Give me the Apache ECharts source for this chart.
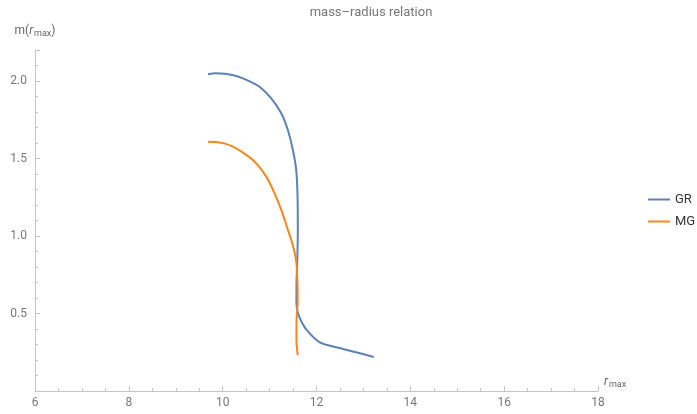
<!DOCTYPE html>
<html>
<head>
<meta charset="utf-8">
<script src="https://cdn.jsdelivr.net/npm/echarts@6/dist/echarts.min.js"></script>
<style>
  html, body { margin: 0; padding: 0; background: #fff; }
  #chart { width: 697px; height: 414px; }
</style>
</head>
<body>
<div id="chart"></div>
<script>
// r_max, m(r_max) pairs
const grR = [9.687, 9.85, 10.05, 10.25, 10.432, 10.61, 10.787, 11.036, 11.249, 11.389, 11.496, 11.568, 11.596, 11.602, 11.589, 11.575, 11.572, 11.60, 11.66, 11.79, 12.06, 12.49, 12.91, 13.22];
const grM = [2.044, 2.05, 2.047, 2.035, 2.017, 1.993, 1.963, 1.888, 1.792, 1.684, 1.555, 1.426, 1.254, 1.039, 0.826, 0.716, 0.568, 0.51, 0.46, 0.394, 0.316, 0.277, 0.245, 0.219];
const mgR = [9.687, 9.85, 10.05, 10.219, 10.504, 10.717, 10.93, 11.106, 11.249, 11.368, 11.483, 11.553, 11.581, 11.60, 11.575, 11.572, 11.60];
const mgM = [1.608, 1.606, 1.596, 1.576, 1.523, 1.469, 1.383, 1.275, 1.168, 1.06, 0.953, 0.866, 0.792, 0.587, 0.458, 0.329, 0.232];
const xTicks = [6, 8, 10, 12, 14, 16, 18];
const yTicks = [0.5, 1.0, 1.5, 2.0];

const pairs = (xs, ys) => xs.map((x, i) => [x, ys[i]]);

const axisColor = '#c4c4c4';
const labelColor = '#777';

const myChart = echarts.init(document.getElementById('chart'));
const option = {
  animation: false,
  title: {
    text: 'mass\u2013radius relation',
    left: 366,
    top: 1,
    textAlign: 'center',
    textStyle: { fontFamily: 'Roboto', fontWeight: 'normal', fontSize: 13, color: '#777' }
  },
  legend: {
    orient: 'vertical',
    left: 643,
    top: 188,
    itemWidth: 22,
    itemHeight: 2,
    itemGap: 9,
    icon: 'rect',
    textStyle: { fontFamily: 'Roboto', fontSize: 13, color: '#333' },
    data: ['GR', 'MG']
  },
  grid: { left: 35, right: 99, top: 50, bottom: 23 },
  xAxis: {
    type: 'value',
    min: 6,
    max: 18,
    interval: 2,
    name: '{i|r}{s|max}',
    nameLocation: 'end',
    nameGap: 6,
    nameTextStyle: {
      verticalAlign: 'bottom',
      padding: [0, 0, 2, 0],
      rich: {
        i: { fontFamily: 'Roboto', fontStyle: 'italic', fontSize: 12, color: '#666' },
        s: { fontFamily: 'Roboto', fontSize: 9, color: '#666', verticalAlign: 'bottom', padding: [6, 0, 0, 1] }
      }
    },
    axisLine: { show: true, onZero: false, lineStyle: { color: axisColor } },
    axisTick: { show: true, inside: true, length: 5, lineStyle: { color: axisColor } },
    minorTick: { show: true, splitNumber: 4, length: 3, lineStyle: { color: axisColor } },
    axisLabel: {
      color: labelColor, fontFamily: 'Roboto', fontSize: 12, margin: 6,
      formatter: v => (xTicks.includes(v) ? String(v) : '')
    },
    splitLine: { show: false }
  },
  yAxis: {
    type: 'value',
    min: 0,
    max: 2.2,
    interval: 0.5,
    name: '{a|m(}{i|r}{s|max}{a|)}',
    nameLocation: 'end',
    nameGap: 12,
    nameTextStyle: {
      align: 'center',
      rich: {
        a: { fontFamily: 'Roboto', fontSize: 12, color: '#666' },
        i: { fontFamily: 'Roboto', fontStyle: 'italic', fontSize: 12, color: '#666' },
        s: { fontFamily: 'Roboto', fontSize: 9, color: '#666', verticalAlign: 'bottom', padding: [6, 0, 0, 1] }
      }
    },
    axisLine: { show: true, onZero: false, lineStyle: { color: axisColor } },
    axisTick: { show: true, inside: true, length: 5, lineStyle: { color: axisColor } },
    minorTick: { show: true, splitNumber: 5, length: 3, lineStyle: { color: axisColor } },
    axisLabel: {
      color: labelColor, fontFamily: 'Roboto', fontSize: 12, margin: 8,
      formatter: v => (yTicks.some(t => Math.abs(t - v) < 1e-9) ? v.toFixed(1) : '')
    },
    splitLine: { show: false }
  },
  series: [
    {
      name: 'GR',
      type: 'line',
      smooth: 0.3,
      showSymbol: false,
      color: '#5e81b5',
      lineStyle: { width: 2 },
      data: pairs(grR, grM)
    },
    {
      name: 'MG',
      type: 'line',
      smooth: 0.3,
      showSymbol: false,
      color: '#f8861a',
      lineStyle: { width: 2 },
      data: pairs(mgR, mgM)
    }
  ]
};
option && myChart.setOption(option);
</script>
</body>
</html>
